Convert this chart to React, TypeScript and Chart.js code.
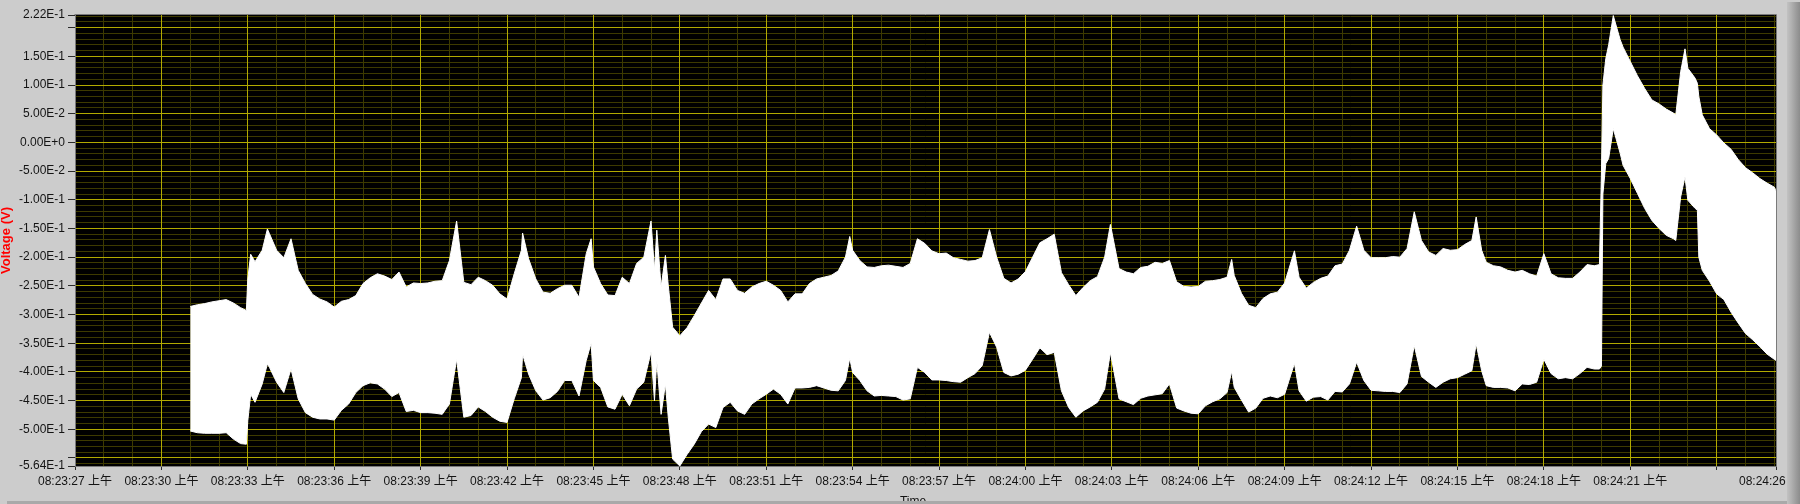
import React, { useEffect, useRef } from "react";
import { Chart, registerables } from "chart.js";

Chart.register(...registerables);

// seconds after 08:23:27
const TIMES = [
  4.0, 4.25, 4.5, 4.75, 5.0, 5.25, 5.5, 5.75, 5.95, 6.0, 6.1, 6.25, 6.5, 6.68, 6.75, 7.0, 7.25, 7.5, 7.75,
  8.0, 8.25, 8.5, 8.75, 9.0, 9.25, 9.5, 9.75, 10.0, 10.25, 10.5, 10.75, 11.0, 11.25, 11.5, 11.75,
  12.0, 12.25, 12.5, 12.75, 13.0, 13.25, 13.5, 13.75, 14.0, 14.25, 14.5, 14.75, 15.0, 15.25, 15.5, 15.54, 15.75,
  16.0, 16.25, 16.5, 16.75, 17.0, 17.25, 17.5, 17.75, 17.92, 18.0, 18.25, 18.5, 18.75, 19.0, 19.25, 19.5, 19.75,
  20.0, 20.12, 20.2, 20.35, 20.5, 20.6, 20.75, 21.0, 21.25, 21.5, 21.75, 22.0, 22.25, 22.5, 22.75,
  23.0, 23.25, 23.5, 23.75, 24.0, 24.25, 24.5, 24.75, 25.0, 25.25, 25.5, 25.75, 26.0, 26.25, 26.5, 26.75, 26.9,
  27.0, 27.25, 27.5, 27.75, 28.0, 28.25, 28.5, 28.75, 29.0, 29.25, 29.5, 29.75, 30.0, 30.25, 30.5, 30.75,
  31.0, 31.25, 31.5, 31.75, 32.0, 32.25, 32.5, 32.75, 33.0, 33.25, 33.5, 33.75, 34.0, 34.25, 34.5, 34.75,
  35.0, 35.25, 35.5, 35.75, 35.95, 36.25, 36.5, 36.75, 37.0, 37.25, 37.5, 37.75, 38.0, 38.25, 38.5, 38.75,
  39.0, 39.25, 39.5, 39.75, 40.0, 40.16, 40.25, 40.5, 40.75, 41.0, 41.25, 41.5, 41.75, 42.0, 42.34, 42.5, 42.75,
  43.0, 43.25, 43.5, 43.75, 44.0, 44.25, 44.5, 44.75, 45.0, 45.25, 45.5, 45.75, 46.0, 46.25, 46.5, 46.75,
  47.0, 47.25, 47.5, 47.75, 48.0, 48.25, 48.5, 48.65, 48.84, 49.0, 49.25, 49.5, 49.75, 50.0, 50.25, 50.5, 50.75,
  51.0, 51.25, 51.5, 51.75, 52.0, 52.25, 52.5, 52.75, 52.93, 53.0, 53.05, 53.15, 53.25, 53.41, 53.65, 53.75,
  54.0, 54.25, 54.5, 54.75, 55.0, 55.25, 55.5, 55.58, 55.75, 55.9, 56.0, 56.25, 56.33, 56.38, 56.5, 56.75,
  57.0, 57.25, 57.5, 57.75, 58.0, 58.25, 58.5, 58.75, 59.0, 59.06,
];

const UPPER = [
  -0.286, -0.283, -0.281, -0.278, -0.276, -0.274, -0.280, -0.288, -0.293, -0.238, -0.195, -0.208, -0.188, -0.151, -0.159, -0.188, -0.201, -0.168, -0.223,
  -0.246, -0.265, -0.273, -0.278, -0.287, -0.277, -0.274, -0.267, -0.246, -0.236, -0.229, -0.233, -0.239, -0.226, -0.252, -0.245,
  -0.246, -0.245, -0.242, -0.241, -0.206, -0.137, -0.244, -0.248, -0.235, -0.241, -0.249, -0.264, -0.273, -0.229, -0.188, -0.158, -0.203,
  -0.238, -0.261, -0.263, -0.255, -0.249, -0.249, -0.270, -0.194, -0.168, -0.217, -0.246, -0.266, -0.267, -0.235, -0.246, -0.211, -0.200,
  -0.137, -0.223, -0.153, -0.252, -0.197, -0.250, -0.322, -0.337, -0.323, -0.302, -0.280, -0.258, -0.274, -0.238, -0.238,
  -0.258, -0.263, -0.252, -0.246, -0.242, -0.249, -0.258, -0.278, -0.264, -0.264, -0.246, -0.238, -0.235, -0.232, -0.224, -0.200, -0.164,
  -0.188, -0.206, -0.217, -0.218, -0.215, -0.214, -0.216, -0.218, -0.211, -0.168, -0.176, -0.189, -0.194, -0.193, -0.201, -0.204,
  -0.207, -0.206, -0.201, -0.152, -0.200, -0.237, -0.245, -0.238, -0.225, -0.200, -0.175, -0.168, -0.160, -0.227, -0.248, -0.267,
  -0.253, -0.241, -0.234, -0.200, -0.143, -0.220, -0.226, -0.229, -0.218, -0.216, -0.209, -0.211, -0.206, -0.243, -0.251, -0.252,
  -0.251, -0.242, -0.241, -0.239, -0.235, -0.204, -0.232, -0.263, -0.284, -0.288, -0.272, -0.264, -0.261, -0.245, -0.189, -0.235, -0.254,
  -0.244, -0.237, -0.233, -0.215, -0.212, -0.188, -0.146, -0.188, -0.201, -0.201, -0.201, -0.199, -0.200, -0.185, -0.121, -0.171,
  -0.191, -0.197, -0.185, -0.188, -0.187, -0.178, -0.171, -0.130, -0.188, -0.209, -0.215, -0.217, -0.223, -0.226, -0.223, -0.229, -0.233,
  -0.194, -0.229, -0.236, -0.237, -0.237, -0.226, -0.213, -0.215, -0.213, -0.050, 0.100, 0.146, 0.170, 0.221, 0.179, 0.166,
  0.141, 0.116, 0.094, 0.074, 0.067, 0.058, 0.051, 0.048, 0.123, 0.163, 0.129, 0.112, 0.103, 0.080, 0.048, 0.024,
  0.013, -0.001, -0.012, -0.030, -0.044, -0.053, -0.063, -0.071, -0.078, -0.085,
];

const LOWER = [
  -0.503, -0.506, -0.507, -0.507, -0.507, -0.506, -0.517, -0.525, -0.526, -0.485, -0.439, -0.453, -0.421, -0.386, -0.392, -0.418, -0.436, -0.395, -0.447,
  -0.471, -0.479, -0.482, -0.482, -0.484, -0.467, -0.456, -0.436, -0.424, -0.419, -0.421, -0.430, -0.443, -0.436, -0.469, -0.467,
  -0.471, -0.471, -0.472, -0.474, -0.456, -0.378, -0.479, -0.476, -0.461, -0.469, -0.479, -0.486, -0.488, -0.447, -0.410, -0.369, -0.404,
  -0.433, -0.449, -0.445, -0.434, -0.415, -0.415, -0.442, -0.380, -0.350, -0.415, -0.427, -0.461, -0.465, -0.439, -0.459, -0.430, -0.418,
  -0.365, -0.450, -0.380, -0.474, -0.421, -0.480, -0.552, -0.564, -0.544, -0.526, -0.504, -0.491, -0.497, -0.462, -0.453,
  -0.468, -0.474, -0.456, -0.447, -0.439, -0.430, -0.439, -0.456, -0.428, -0.428, -0.427, -0.424, -0.428, -0.432, -0.433, -0.415, -0.376,
  -0.401, -0.415, -0.433, -0.442, -0.441, -0.442, -0.443, -0.449, -0.447, -0.392, -0.401, -0.414, -0.414, -0.415, -0.417, -0.418,
  -0.410, -0.403, -0.389, -0.331, -0.357, -0.401, -0.407, -0.404, -0.397, -0.378, -0.358, -0.370, -0.366, -0.433, -0.462, -0.479,
  -0.468, -0.461, -0.453, -0.430, -0.366, -0.447, -0.452, -0.457, -0.446, -0.442, -0.440, -0.438, -0.421, -0.463, -0.468, -0.472,
  -0.473, -0.459, -0.452, -0.447, -0.436, -0.399, -0.427, -0.449, -0.470, -0.463, -0.446, -0.442, -0.445, -0.439, -0.385, -0.433, -0.451,
  -0.444, -0.443, -0.449, -0.434, -0.435, -0.421, -0.383, -0.415, -0.432, -0.433, -0.434, -0.434, -0.436, -0.421, -0.354, -0.408,
  -0.418, -0.427, -0.418, -0.412, -0.410, -0.404, -0.398, -0.351, -0.398, -0.424, -0.427, -0.427, -0.428, -0.433, -0.421, -0.422, -0.418,
  -0.378, -0.403, -0.412, -0.410, -0.412, -0.403, -0.392, -0.395, -0.395, -0.390, -0.090, -0.037, -0.028, 0.024, -0.019, -0.040,
  -0.063, -0.089, -0.115, -0.136, -0.150, -0.162, -0.168, -0.171, -0.095, -0.060, -0.101, -0.115, -0.118, -0.200, -0.223, -0.242,
  -0.264, -0.274, -0.296, -0.315, -0.333, -0.344, -0.356, -0.369, -0.378, -0.380,
];

const X_MIN = 0;
const X_MAX = 59.06;
const X_TICKS = [0, 3, 6, 9, 12, 15, 18, 21, 24, 27, 30, 33, 36, 39, 42, 45, 48, 51, 54, 57, 59.06];
const X_TICK_LABELS = [
  "08:23:27 上午", "08:23:30 上午", "08:23:33 上午", "08:23:36 上午", "08:23:39 上午", "08:23:42 上午",
  "08:23:45 上午", "08:23:48 上午", "08:23:51 上午", "08:23:54 上午", "08:23:57 上午", "08:24:00 上午",
  "08:24:03 上午", "08:24:06 上午", "08:24:09 上午", "08:24:12 上午", "08:24:15 上午", "08:24:18 上午",
  "08:24:21 上午", "", "08:24:26 上午",
];

const Y_MIN = -0.564;
const Y_MAX = 0.222;
const Y_TICKS = [-0.564, -0.55, -0.5, -0.45, -0.4, -0.35, -0.3, -0.25, -0.2, -0.15, -0.1, -0.05, 0, 0.05, 0.1, 0.15, 0.2, 0.222];
const Y_TICK_LABELS = [
  "-5.64E-1", "", "-5.00E-1", "-4.50E-1", "-4.00E-1", "-3.50E-1", "-3.00E-1", "-2.50E-1", "-2.00E-1",
  "-1.50E-1", "-1.00E-1", "-5.00E-2", "0.00E+0", "5.00E-2", "1.00E-1", "1.50E-1", "", "2.22E-1",
];

const X_TITLE = "Time";
const Y_TITLE = "Voltage (V)";

const FONT = '"Liberation Sans", "Noto Sans CJK SC", Arial, sans-serif';
const MAJOR = "#b2aa00";
const MINOR = "#3d3a00";
const TEXT = "#141414";
const BG = "#cccccc";

export default function App() {
  const ref = useRef<HTMLCanvasElement>(null);

  useEffect(() => {
    const canvas = ref.current;
    if (!canvas) return;

    const minorX: number[] = [];
    for (let k = 1; k <= 59; k++) if (k % 3 !== 0) minorX.push(k);
    const minorY: number[] = [];
    for (let k = -56; k <= 22; k++) if (k % 5 !== 0) minorY.push(k / 100);

    const framePlugin = {
      id: "labviewFrame",
      beforeDraw(chart: any) {
        const { ctx, chartArea: a } = chart;
        ctx.save();
        ctx.fillStyle = "#000000";
        ctx.fillRect(a.left, a.top, a.right - a.left, a.bottom - a.top);
        ctx.restore();
      },
      afterDraw(chart: any) {
        const { ctx, chartArea: a } = chart;
        ctx.save();
        // plot frame
        ctx.strokeStyle = "#7a7a7a";
        ctx.lineWidth = 1;
        ctx.beginPath();
        ctx.moveTo(Math.round(a.left) - 0.5, Math.round(a.top) - 0.5);
        ctx.lineTo(Math.round(a.right) + 0.5, Math.round(a.top) - 0.5);
        ctx.lineTo(Math.round(a.right) + 0.5, Math.round(a.bottom) + 0.5);
        ctx.stroke();
        // axis titles
        ctx.fillStyle = "#ff0000";
        ctx.font = "bold 13px " + FONT;
        ctx.textAlign = "center";
        ctx.textBaseline = "middle";
        ctx.translate(6.5, (a.top + a.bottom) / 2);
        ctx.rotate(-Math.PI / 2);
        ctx.fillText(Y_TITLE, 0, 0);
        ctx.setTransform(1, 0, 0, 1, 0, 0);
        ctx.fillStyle = TEXT;
        ctx.font = "12px " + FONT;
        ctx.textAlign = "center";
        ctx.textBaseline = "alphabetic";
        ctx.fillText(X_TITLE, 913, 505);
        // window edges
        ctx.fillStyle = "#a9a9a9";
        ctx.fillRect(7, 501, 1780, 3);
        const g = ctx.createLinearGradient(1787, 0, 1800, 0);
        g.addColorStop(0, "#c2c2c2");
        g.addColorStop(0.35, "#b0b0b0");
        g.addColorStop(0.7, "#9c9c9c");
        g.addColorStop(1, "#8c8c8c");
        ctx.fillStyle = g;
        ctx.fillRect(1787, 2, 13, 502);
        ctx.restore();
      },
    };

    const chart = new Chart(canvas, {
      type: "line",
      data: {
        datasets: [
          {
            label: "min",
            data: TIMES.map((t, i) => ({ x: t, y: LOWER[i] })),
            borderColor: "#ffffff",
            borderWidth: 1,
            pointRadius: 0,
            fill: false,
            tension: 0,
          },
          {
            label: "max",
            data: TIMES.map((t, i) => ({ x: t, y: UPPER[i] })),
            borderColor: "#ffffff",
            backgroundColor: "#ffffff",
            borderWidth: 1,
            pointRadius: 0,
            fill: "-1",
            tension: 0,
          },
        ],
      },
      options: {
        animation: false,
        responsive: false,
        maintainAspectRatio: false,
        events: [],
        layout: { padding: { left: 0, top: 15, right: 24, bottom: 0 } },
        plugins: {
          legend: { display: false },
          tooltip: { enabled: false },
          title: { display: false },
        },
        scales: {
          xMinor: {
            type: "linear",
            position: "bottom",
            min: X_MIN,
            max: X_MAX,
            afterBuildTicks: (s: any) => {
              s.ticks = minorX.map((v) => ({ value: v }));
            },
            ticks: { display: false },
            grid: { color: MINOR, lineWidth: 1, drawTicks: false, z: -1 },
            border: { display: false },
            afterFit: (s: any) => {
              s.height = 0;
              s.paddingLeft = 0;
              s.paddingRight = 0;
            },
          },
          yMinor: {
            type: "linear",
            position: "left",
            min: Y_MIN,
            max: Y_MAX,
            afterBuildTicks: (s: any) => {
              s.ticks = minorY.map((v) => ({ value: v }));
            },
            ticks: { display: false },
            grid: { color: MINOR, lineWidth: 1, drawTicks: false, z: -1 },
            border: { display: false },
            afterFit: (s: any) => {
              s.width = 0;
              s.paddingTop = 0;
              s.paddingBottom = 0;
            },
          },
          x: {
            type: "linear",
            position: "bottom",
            min: X_MIN,
            max: X_MAX,
            afterBuildTicks: (s: any) => {
              s.ticks = X_TICKS.map((v) => ({ value: v }));
            },
            ticks: {
              autoSkip: false,
              maxRotation: 0,
              minRotation: 0,
              padding: 4,
              color: TEXT,
              font: { family: FONT, size: 12 },
              callback: (_v: any, i: number) => X_TICK_LABELS[i],
            },
            grid: {
              color: (c: any) => (c.index === 0 || c.index === X_TICKS.length - 1 ? "rgba(0,0,0,0)" : MAJOR),
              tickColor: "#2a2a2a",
              tickLength: 4,
              lineWidth: 1,
            },
            border: { display: true, color: "#7a7a7a", width: 1 },
            afterFit: (s: any) => {
              s.height = 38;
              s.paddingLeft = 0;
              s.paddingRight = 0;
            },
          },
          y: {
            type: "linear",
            position: "left",
            min: Y_MIN,
            max: Y_MAX,
            afterBuildTicks: (s: any) => {
              s.ticks = Y_TICKS.map((v) => ({ value: v }));
            },
            ticks: {
              autoSkip: false,
              padding: 3,
              color: TEXT,
              font: { family: FONT, size: 12 },
              callback: (_v: any, i: number) => Y_TICK_LABELS[i],
            },
            grid: {
              color: (c: any) => (c.index === 0 || c.index === Y_TICKS.length - 1 ? "rgba(0,0,0,0)" : MAJOR),
              tickColor: "#2a2a2a",
              tickLength: 7,
              lineWidth: 1,
            },
            border: { display: true, color: "#7a7a7a", width: 1 },
            afterFit: (s: any) => {
              s.width = 75;
              s.paddingTop = 0;
              s.paddingBottom = 0;
            },
          },
        },
      },
      plugins: [framePlugin],
    } as any);

    return () => chart.destroy();
  }, []);

  return (
    <div
      style={{
        position: "fixed",
        left: 0,
        top: 0,
        width: 1800,
        height: 504,
        background: BG,
        overflow: "hidden",
      }}
    >
      <canvas ref={ref} width={1800} height={504} style={{ display: "block", width: 1800, height: 504 }} />
    </div>
  );
}
